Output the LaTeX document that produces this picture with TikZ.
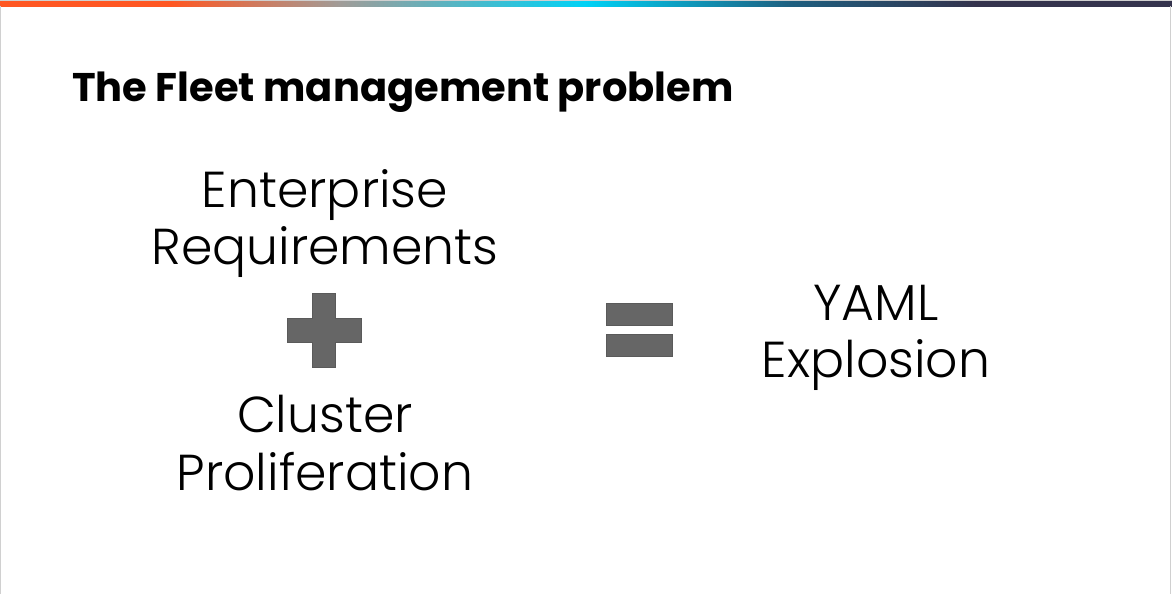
\documentclass[tikz,border=0pt]{standalone}
\usepackage{fontspec}
\setmainfont{Poppins}
\newfontfamily\bodyfont{Poppins}[UprightFont=* Light]
\newfontfamily\titlefont{Poppins}[UprightFont=* Bold]
\definecolor{barorange}{HTML}{FF5722}
\definecolor{bargray}{HTML}{A09C98}
\definecolor{barcyan}{HTML}{00D2F6}
\definecolor{barteal}{HTML}{1E5F80}
\definecolor{barnavy}{HTML}{34334D}
\definecolor{symgray}{HTML}{666666}
\definecolor{symedge}{HTML}{5A5A5A}
\definecolor{framegray}{HTML}{D0D0D0}
\tikzset{
  bodytext/.style={font=\bodyfont\fontsize{50.5}{57}\selectfont, align=center, text=black, inner sep=0pt},
  titletext/.style={font=\titlefont\fontsize{40}{45}\selectfont, anchor=base west, text=black, inner sep=0pt},
  symbol/.style={fill=symgray, draw=symedge, line width=0.8pt}
}
\begin{document}
\begin{tikzpicture}[x=1pt,y=-1pt]
\useasboundingbox (0,0) rectangle (1172,594);
\fill[white] (0,0) rectangle (1172,594);
% top gradient bar
\shade[left color=barorange, right color=barorange] (0,1.5) rectangle (171,6.5);
\shade[left color=barorange, right color=bargray] (170,1.5) rectangle (341,6.5);
\shade[left color=bargray, right color=barcyan] (340,1.5) rectangle (586,6.5);
\shade[left color=barcyan, right color=barteal] (585,1.5) rectangle (791,6.5);
\shade[left color=barteal, right color=barnavy] (790,1.5) rectangle (976,6.5);
\shade[left color=barnavy, right color=barnavy] (975,1.5) rectangle (1172,6.5);
% frame
\draw[framegray, line width=1pt] (0.5,6.5) -- (0.5,594);
\draw[framegray, line width=1pt] (1170.5,6.5) -- (1170.5,594);
\draw[framegray, line width=1pt] (0,0.5) -- (1172,0.5);
% title
\node[titletext] (title) at (72,101) {The Fleet management problem};
% texts
\node[bodytext, anchor=base] (ent) at (325,207) {Enterprise};
\node[bodytext, anchor=base] (req) at (325,264) {Requirements};
\node[bodytext, anchor=base] (clu) at (325,432) {Cluster};
\node[bodytext, anchor=base] (pro) at (325,490) {Proliferation};
\node[bodytext, anchor=base] (yaml) at (876,320) {YAML};
\node[bodytext, anchor=base] (exp) at (876,377) {Explosion};
% plus sign
\path[symbol] (312.5,293) -- (335.5,293) -- (335.5,318) -- (361,318) -- (361,342) -- (335.5,342) -- (335.5,367) -- (312.5,367) -- (312.5,342) -- (287.5,342) -- (287.5,318) -- (312.5,318) -- cycle;
% equals sign
\path[symbol] (606.5,303.5) rectangle (672.5,325);
\path[symbol] (606.5,334.5) rectangle (672.5,356.5);
\end{tikzpicture}
\end{document}
